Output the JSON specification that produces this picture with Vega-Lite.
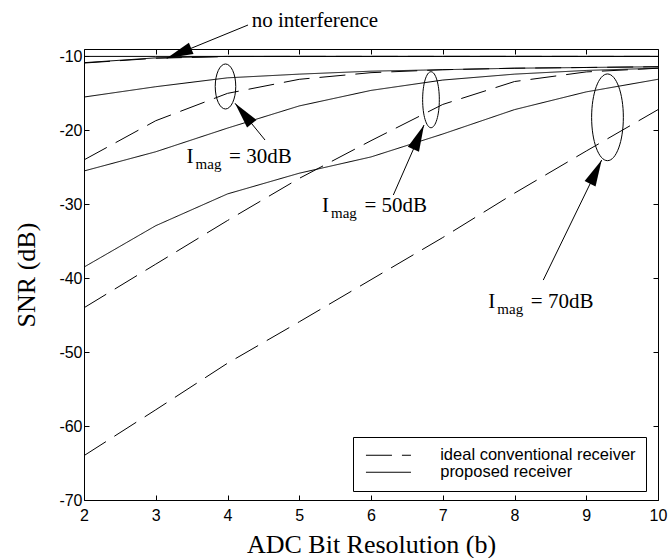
{
  "$schema": "https://vega.github.io/schema/vega-lite/v6.json",
  "width": 574,
  "height": 451,
  "autosize": {"type": "none"},
  "padding": {"left": 84, "top": 49, "right": 10, "bottom": 58},
  "background": "white",
  "config": {
    "view": {"stroke": "black", "strokeWidth": 1},
    "axis": {
      "grid": false, "domain": false, "tickColor": "black", "tickSize": -5, "tickWidth": 1,
      "labelFont": "Liberation Sans", "labelFontSize": 16, "labelColor": "black",
      "labelFlush": false, "labelOverlap": false, "labelExpr": "'' + datum.value",
      "titleFont": "Liberation Serif", "titleFontSize": 26, "titleFontWeight": "normal", "titleColor": "black"
    },
    "legend": {
      "fillColor": "white", "strokeColor": "black", "padding": 10,
      "labelFont": "Liberation Sans", "labelFontSize": 16.5, "labelColor": "black", "labelLimit": 0,
      "symbolType": "M-4,0L4,0", "symbolSize": 126.5, "symbolStrokeColor": "black", "symbolStrokeWidth": 1,
      "symbolFillColor": "transparent", "symbolOffset": 17.2,
      "labelOffset": 43.5, "rowPadding": -2
    }
  },
  "datasets": {
    "curves": [
      {"s": "ref", "r": "proposed receiver", "b": 2, "v": -10}, {"s": "ref", "r": "proposed receiver", "b": 3, "v": -10}, {"s": "ref", "r": "proposed receiver", "b": 4, "v": -10}, {"s": "ref", "r": "proposed receiver", "b": 5, "v": -10}, {"s": "ref", "r": "proposed receiver", "b": 6, "v": -10}, {"s": "ref", "r": "proposed receiver", "b": 7, "v": -10}, {"s": "ref", "r": "proposed receiver", "b": 8, "v": -10}, {"s": "ref", "r": "proposed receiver", "b": 9, "v": -10}, {"s": "ref", "r": "proposed receiver", "b": 10, "v": -10},
      {"s": "ni_d", "r": "ideal conventional receiver", "b": 2, "v": -10.9}, {"s": "ni_d", "r": "ideal conventional receiver", "b": 3, "v": -10.25}, {"s": "ni_d", "r": "ideal conventional receiver", "b": 4, "v": -10.02}, {"s": "ni_d", "r": "ideal conventional receiver", "b": 5, "v": -10}, {"s": "ni_d", "r": "ideal conventional receiver", "b": 6, "v": -10}, {"s": "ni_d", "r": "ideal conventional receiver", "b": 7, "v": -10}, {"s": "ni_d", "r": "ideal conventional receiver", "b": 8, "v": -10}, {"s": "ni_d", "r": "ideal conventional receiver", "b": 9, "v": -10}, {"s": "ni_d", "r": "ideal conventional receiver", "b": 10, "v": -10},
      {"s": "ni_s", "r": "proposed receiver", "b": 2, "v": -10.85}, {"s": "ni_s", "r": "proposed receiver", "b": 3, "v": -10.2}, {"s": "ni_s", "r": "proposed receiver", "b": 4, "v": -10}, {"s": "ni_s", "r": "proposed receiver", "b": 5, "v": -10}, {"s": "ni_s", "r": "proposed receiver", "b": 6, "v": -10}, {"s": "ni_s", "r": "proposed receiver", "b": 7, "v": -10}, {"s": "ni_s", "r": "proposed receiver", "b": 8, "v": -10}, {"s": "ni_s", "r": "proposed receiver", "b": 9, "v": -10}, {"s": "ni_s", "r": "proposed receiver", "b": 10, "v": -10},
      {"s": "s30", "r": "proposed receiver", "b": 2, "v": -15.5}, {"s": "s30", "r": "proposed receiver", "b": 3, "v": -14.1}, {"s": "s30", "r": "proposed receiver", "b": 4, "v": -12.9}, {"s": "s30", "r": "proposed receiver", "b": 5, "v": -12.4}, {"s": "s30", "r": "proposed receiver", "b": 6, "v": -12.0}, {"s": "s30", "r": "proposed receiver", "b": 7, "v": -11.8}, {"s": "s30", "r": "proposed receiver", "b": 8, "v": -11.6}, {"s": "s30", "r": "proposed receiver", "b": 9, "v": -11.5}, {"s": "s30", "r": "proposed receiver", "b": 10, "v": -11.4},
      {"s": "d30", "r": "ideal conventional receiver", "b": 2, "v": -24.0}, {"s": "d30", "r": "ideal conventional receiver", "b": 3, "v": -18.7}, {"s": "d30", "r": "ideal conventional receiver", "b": 4, "v": -15.0}, {"s": "d30", "r": "ideal conventional receiver", "b": 5, "v": -13.1}, {"s": "d30", "r": "ideal conventional receiver", "b": 6, "v": -12.2}, {"s": "d30", "r": "ideal conventional receiver", "b": 7, "v": -11.8}, {"s": "d30", "r": "ideal conventional receiver", "b": 8, "v": -11.6}, {"s": "d30", "r": "ideal conventional receiver", "b": 9, "v": -11.5}, {"s": "d30", "r": "ideal conventional receiver", "b": 10, "v": -11.4},
      {"s": "s50", "r": "proposed receiver", "b": 2, "v": -25.5}, {"s": "s50", "r": "proposed receiver", "b": 3, "v": -22.9}, {"s": "s50", "r": "proposed receiver", "b": 4, "v": -19.7}, {"s": "s50", "r": "proposed receiver", "b": 5, "v": -16.7}, {"s": "s50", "r": "proposed receiver", "b": 6, "v": -14.6}, {"s": "s50", "r": "proposed receiver", "b": 7, "v": -13.2}, {"s": "s50", "r": "proposed receiver", "b": 8, "v": -12.4}, {"s": "s50", "r": "proposed receiver", "b": 9, "v": -11.9}, {"s": "s50", "r": "proposed receiver", "b": 10, "v": -11.6},
      {"s": "d50", "r": "ideal conventional receiver", "b": 2, "v": -44.0}, {"s": "d50", "r": "ideal conventional receiver", "b": 3, "v": -38.1}, {"s": "d50", "r": "ideal conventional receiver", "b": 4, "v": -32.2}, {"s": "d50", "r": "ideal conventional receiver", "b": 5, "v": -26.5}, {"s": "d50", "r": "ideal conventional receiver", "b": 6, "v": -21.4}, {"s": "d50", "r": "ideal conventional receiver", "b": 7, "v": -16.5}, {"s": "d50", "r": "ideal conventional receiver", "b": 8, "v": -13.4}, {"s": "d50", "r": "ideal conventional receiver", "b": 9, "v": -12.1}, {"s": "d50", "r": "ideal conventional receiver", "b": 10, "v": -11.6},
      {"s": "s70", "r": "proposed receiver", "b": 2, "v": -38.5}, {"s": "s70", "r": "proposed receiver", "b": 3, "v": -32.9}, {"s": "s70", "r": "proposed receiver", "b": 4, "v": -28.6}, {"s": "s70", "r": "proposed receiver", "b": 5, "v": -25.8}, {"s": "s70", "r": "proposed receiver", "b": 6, "v": -23.6}, {"s": "s70", "r": "proposed receiver", "b": 7, "v": -20.5}, {"s": "s70", "r": "proposed receiver", "b": 8, "v": -17.2}, {"s": "s70", "r": "proposed receiver", "b": 9, "v": -14.8}, {"s": "s70", "r": "proposed receiver", "b": 10, "v": -13.1},
      {"s": "d70", "r": "ideal conventional receiver", "b": 2, "v": -64.0}, {"s": "d70", "r": "ideal conventional receiver", "b": 3, "v": -57.8}, {"s": "d70", "r": "ideal conventional receiver", "b": 4, "v": -51.5}, {"s": "d70", "r": "ideal conventional receiver", "b": 5, "v": -45.9}, {"s": "d70", "r": "ideal conventional receiver", "b": 6, "v": -40.2}, {"s": "d70", "r": "ideal conventional receiver", "b": 7, "v": -34.5}, {"s": "d70", "r": "ideal conventional receiver", "b": 8, "v": -28.5}, {"s": "d70", "r": "ideal conventional receiver", "b": 9, "v": -22.8}, {"s": "d70", "r": "ideal conventional receiver", "b": 10, "v": -17.2}
    ],
    "arrows": [
      {"k": "ni", "b1": 4.286, "v1": -5.754, "b2": 3.153, "v2": -10.258},
      {"k": "30", "b1": 4.523, "v1": -21.31, "b2": 4.105, "v2": -16.34},
      {"k": "50", "b1": 6.311, "v1": -28.75, "b2": 6.739, "v2": -19.28},
      {"k": "70", "b1": 8.401, "v1": -40.25, "b2": 9.215, "v2": -24.01}
    ],
    "labels": [
      {"k": "30", "b": 3.43, "v": -24.46, "rest": "= 30dB"},
      {"k": "50", "b": 5.317, "v": -31.05, "rest": "= 50dB"},
      {"k": "70", "b": 7.635, "v": -44.07, "rest": "= 70dB"}
    ],
    "notes": [
      {"b": 4.337, "v": -5.96, "t": "no interference"}
    ],
    "ellipses": [
      {"k": "30", "b": 3.972, "v": -14.07},
      {"k": "50", "b": 6.836, "v": -15.86},
      {"k": "70", "b": 9.296, "v": -18.24}
    ]
  },
  "layer": [
    {
      "data": {"name": "curves"},
      "mark": {"type": "line", "color": "black", "strokeWidth": 1},
      "encoding": {
        "x": {"field": "b", "type": "quantitative", "scale": {"domain": [2, 10], "nice": false},
              "axis": {"title": "ADC Bit Resolution (b)", "values": [2, 3, 4, 5, 6, 7, 8, 9, 10], "labelPadding": 12, "titlePadding": 8}},
        "y": {"field": "v", "type": "quantitative", "scale": {"domain": [-70, -9], "nice": false, "zero": false},
              "axis": {"title": "SNR (dB)", "values": [-70, -60, -50, -40, -30, -20, -10], "labelPadding": 7, "titlePadding": 19}},
        "detail": {"field": "s", "type": "nominal"},
        "strokeDash": {"field": "r", "type": "nominal",
                       "scale": {"domain": ["ideal conventional receiver", "proposed receiver"], "range": [[26, 10], [1, 0]]},
                       "legend": {"title": null, "orient": "none", "legendX": 269, "legendY": 388}}
      }
    },
    {
      "data": {"name": "curves"},
      "transform": [{"filter": "datum.s == 'ref'"}],
      "mark": {"type": "line", "opacity": 0},
      "encoding": {
        "x": {"field": "b", "type": "quantitative", "axis": {"orient": "top", "labels": false, "title": null, "values": [2, 3, 4, 5, 6, 7, 8, 9, 10]}},
        "y": {"field": "v", "type": "quantitative", "axis": {"orient": "right", "labels": false, "title": null, "values": [-70, -60, -50, -40, -30, -20, -10]}}
      }
    },
    {
      "data": {"name": "arrows"},
      "mark": {"type": "rule", "color": "black", "strokeWidth": 1},
      "encoding": {
        "x": {"field": "b1", "type": "quantitative", "axis": null},
        "y": {"field": "v1", "type": "quantitative", "axis": null},
        "x2": {"field": "b2"},
        "y2": {"field": "v2"}
      }
    },
    {
      "data": {"name": "arrows"},
      "transform": [{"filter": "datum.k == 'ni'"}],
      "mark": {"type": "point", "shape": "M0,0L0.46,2L-0.46,2Z", "filled": true, "color": "black", "opacity": 1, "size": 700, "angle": 247.7},
      "encoding": {"x": {"field": "b2", "type": "quantitative", "axis": null}, "y": {"field": "v2", "type": "quantitative", "axis": null}}
    },
    {
      "data": {"name": "arrows"},
      "transform": [{"filter": "datum.k == '30'"}],
      "mark": {"type": "point", "shape": "M0,0L0.46,2L-0.46,2Z", "filled": true, "color": "black", "opacity": 1, "size": 700, "angle": 320.7},
      "encoding": {"x": {"field": "b2", "type": "quantitative", "axis": null}, "y": {"field": "v2", "type": "quantitative", "axis": null}}
    },
    {
      "data": {"name": "arrows"},
      "transform": [{"filter": "datum.k == '50'"}],
      "mark": {"type": "point", "shape": "M0,0L0.46,2L-0.46,2Z", "filled": true, "color": "black", "opacity": 1, "size": 700, "angle": 23.7},
      "encoding": {"x": {"field": "b2", "type": "quantitative", "axis": null}, "y": {"field": "v2", "type": "quantitative", "axis": null}}
    },
    {
      "data": {"name": "arrows"},
      "transform": [{"filter": "datum.k == '70'"}],
      "mark": {"type": "point", "shape": "M0,0L0.46,2L-0.46,2Z", "filled": true, "color": "black", "opacity": 1, "size": 700, "angle": 26},
      "encoding": {"x": {"field": "b2", "type": "quantitative", "axis": null}, "y": {"field": "v2", "type": "quantitative", "axis": null}}
    },
    {
      "data": {"name": "ellipses"},
      "transform": [{"filter": "datum.k == '30'"}],
      "mark": {"type": "point", "shape": "M0,-1C0.252,-1,0.456,-0.552,0.456,0C0.456,0.552,0.252,1,0,1C-0.252,1,-0.456,0.552,-0.456,0C-0.456,-0.552,-0.252,-1,0,-1Z", "filled": false, "stroke": "black", "strokeWidth": 1, "opacity": 1, "size": 2025},
      "encoding": {"x": {"field": "b", "type": "quantitative", "axis": null}, "y": {"field": "v", "type": "quantitative", "axis": null}}
    },
    {
      "data": {"name": "ellipses"},
      "transform": [{"filter": "datum.k == '50'"}],
      "mark": {"type": "point", "shape": "M0,-1C0.165,-1,0.298,-0.552,0.298,0C0.298,0.552,0.165,1,0,1C-0.165,1,-0.298,0.552,-0.298,0C-0.298,-0.552,-0.165,-1,0,-1Z", "filled": false, "stroke": "black", "strokeWidth": 1, "opacity": 1, "size": 3136},
      "encoding": {"x": {"field": "b", "type": "quantitative", "axis": null}, "y": {"field": "v", "type": "quantitative", "axis": null}}
    },
    {
      "data": {"name": "ellipses"},
      "transform": [{"filter": "datum.k == '70'"}],
      "mark": {"type": "point", "shape": "M0,-1C0.202,-1,0.366,-0.552,0.366,0C0.366,0.552,0.202,1,0,1C-0.202,1,-0.366,0.552,-0.366,0C-0.366,-0.552,-0.202,-1,0,-1Z", "filled": false, "stroke": "black", "strokeWidth": 1, "opacity": 1, "size": 7517},
      "encoding": {"x": {"field": "b", "type": "quantitative", "axis": null}, "y": {"field": "v", "type": "quantitative", "axis": null}}
    },
    {
      "data": {"name": "labels"},
      "mark": {"type": "text", "font": "Liberation Serif", "fontSize": 21, "color": "black", "align": "left", "baseline": "alphabetic"},
      "encoding": {"x": {"field": "b", "type": "quantitative", "axis": null}, "y": {"field": "v", "type": "quantitative", "axis": null}, "text": {"value": "I"}}
    },
    {
      "data": {"name": "labels"},
      "mark": {"type": "text", "font": "Liberation Serif", "fontSize": 15, "color": "black", "align": "left", "baseline": "alphabetic", "dx": 9, "dy": 6},
      "encoding": {"x": {"field": "b", "type": "quantitative", "axis": null}, "y": {"field": "v", "type": "quantitative", "axis": null}, "text": {"value": "mag"}}
    },
    {
      "data": {"name": "labels"},
      "mark": {"type": "text", "font": "Liberation Serif", "fontSize": 21, "color": "black", "align": "left", "baseline": "alphabetic", "dx": 42.5},
      "encoding": {"x": {"field": "b", "type": "quantitative", "axis": null}, "y": {"field": "v", "type": "quantitative", "axis": null}, "text": {"field": "rest"}}
    },
    {
      "data": {"name": "notes"},
      "mark": {"type": "text", "font": "Liberation Serif", "fontSize": 21, "color": "black", "align": "left", "baseline": "alphabetic"},
      "encoding": {"x": {"field": "b", "type": "quantitative", "axis": null}, "y": {"field": "v", "type": "quantitative", "axis": null}, "text": {"field": "t"}}
    }
  ],
  "resolve": {"axis": {"x": "independent", "y": "independent"}}
}
